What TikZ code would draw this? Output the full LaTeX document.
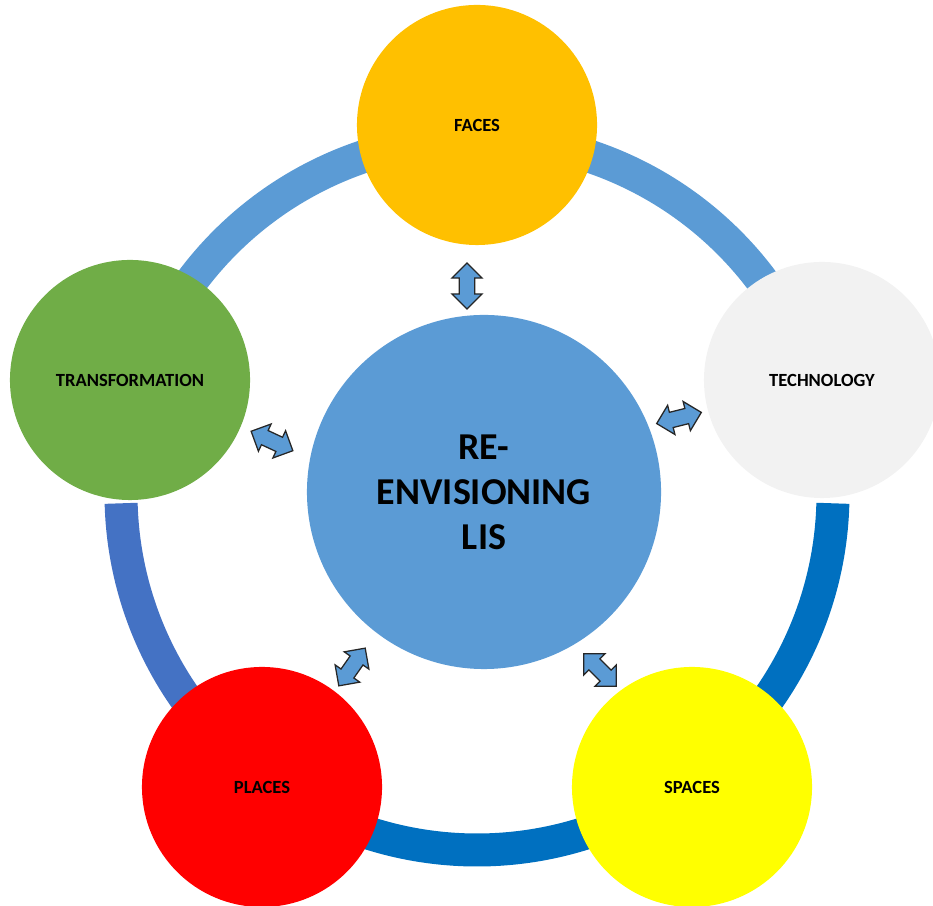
\documentclass[tikz,border=0pt]{standalone}
\usepackage{fontspec}
\setmainfont{Carlito}
\usetikzlibrary{shapes.arrows}
\definecolor{ringlight}{HTML}{5B9BD5}
\definecolor{ringmid}{HTML}{4472C4}
\definecolor{ringdark}{HTML}{0070C0}
\definecolor{facescol}{HTML}{FFC000}
\definecolor{techcol}{HTML}{F2F2F2}
\definecolor{transcol}{HTML}{70AD47}
\definecolor{placescol}{HTML}{FF0000}
\definecolor{spacescol}{HTML}{FFFF00}

\begin{document}
\begin{tikzpicture}[x=0.025cm,y=0.025cm,
	petal/.style={circle,inner sep=0pt,minimum size=6cm,font=\bfseries\fontsize{13.2}{15}\selectfont},
	ring/.style={line width=0.825cm},
	dblarrow/.style={double arrow,draw=black!85,line width=0.9pt,fill=ringlight,inner sep=0.18cm,
		double arrow head extend=0.18cm,minimum height=1.15cm}]
					\useasboundingbox (0,0) rectangle (933,906);
					% Define the ring
					\coordinate (hub) at (477,412);
					\foreach \a/\b/\c in {18/90/ringlight,90/162/ringlight,181.5/234/ringmid,234/306/ringdark,306/358.5/ringdark}
						\draw[ring,\c] (hub) ++(\a:356) arc[start angle=\a,end angle=\b,radius=356];
					% Centre circle
					\node[circle,fill=ringlight,minimum size=8.85cm,align=center,
						font=\bfseries\fontsize{27}{32}\selectfont] (lis) at (484,414) {RE-\\ENVISIONING\\LIS};
					% Outer circles
					\node[petal,fill=facescol] (faces) at (477,781) {FACES};
					\node[petal,fill=techcol,minimum size=5.9cm] (tech) at (822,526) {TECHNOLOGY};
					\node[petal,fill=transcol] (trans) at (130,526) {TRANSFORMATION};
					\node[petal,fill=placescol] (places) at (262,119) {PLACES};
					\node[petal,fill=spacescol] (spaces) at (692,119) {SPACES};
					% Double arrows
					\node[dblarrow,rotate=90] (toFaces) at (467,620) {};
					\node[dblarrow,rotate=-25] (toTrans) at (272,465) {};
					\node[dblarrow,rotate=14] (toTech) at (679,488) {};
					\node[dblarrow,rotate=55] (toPlaces) at (352,239) {};
					\node[dblarrow,rotate=-45] (toSpaces) at (600,236) {};
				\end{tikzpicture}
\end{document}
